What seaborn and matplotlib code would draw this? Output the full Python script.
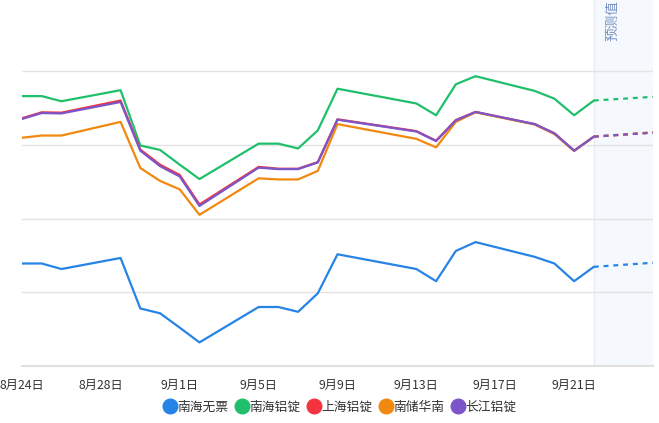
import matplotlib
matplotlib.use("Agg")
import matplotlib.pyplot as plt
from matplotlib.lines import Line2D
import seaborn as sns
import pandas as pd

# 日期与各系列数值
dates = ["2024-08-24", "2024-08-25", "2024-08-26", "2024-08-29", "2024-08-30",
         "2024-08-31", "2024-09-01", "2024-09-02", "2024-09-05", "2024-09-06",
         "2024-09-07", "2024-09-08", "2024-09-09", "2024-09-13", "2024-09-14",
         "2024-09-15", "2024-09-16", "2024-09-19", "2024-09-20", "2024-09-21",
         "2024-09-22"]
pred_dates = ["2024-09-22", "2024-09-25"]

series_names = ["南海无票", "南海铝锭", "上海铝锭", "南储华南", "长江铝锭"]
colors = ["#2684e6", "#20bf6b", "#f3343f", "#f1880f", "#7c55c8"]

nanhai_wupiao = [13.9, 13.9, 13.15, 14.65, 7.8, 7.15, 5.2, 3.2, 8.0, 8.0,
                 7.35, 9.85, 15.15, 13.15, 11.5, 15.6, 16.8, 14.8, 13.9, 11.5, 13.45]
nanhai_ding = [36.6, 36.6, 35.9, 37.4, 29.9, 29.3, 27.3, 25.35, 30.15, 30.15,
               29.5, 31.95, 37.6, 35.6, 34.0, 38.2, 39.3, 37.3, 36.25, 34.0, 36.0]
shanghai_ding = [33.6, 34.4, 34.35, 36.0, 29.35, 27.3, 25.9, 21.9, 27.0, 26.75,
                 26.75, 27.65, 33.45, 31.85, 30.55, 33.35, 34.45, 32.8, 31.55, 29.2, 31.1]
nanchu_huanan = [30.95, 31.25, 31.25, 33.1, 26.85, 25.1, 23.95, 20.5, 25.45, 25.3,
                 25.3, 26.45, 32.8, 30.8, 29.65, 33.1, 34.4, 32.75, 31.45, 29.15, 31.1]
changjiang_ding = [33.5, 34.3, 34.25, 35.8, 29.2, 27.1, 25.7, 21.7, 26.9, 26.7,
                   26.7, 27.6, 33.4, 31.8, 30.5, 33.3, 34.45, 32.8, 31.55, 29.2, 31.1]

# 预测值（虚线部分）
pred_values = [[13.45, 14.0], [36.0, 36.5], [31.1, 31.65], [31.1, 31.7], [31.1, 31.65]]

history = [nanhai_wupiao, nanhai_ding, shanghai_ding, nanchu_huanan, changjiang_ding]

rows = []
for name, vals in zip(series_names, history):
    for d, v in zip(dates, vals):
        rows.append({"date": pd.Timestamp(d), "value": v, "series": name})
df = pd.DataFrame(rows)

prow = []
for name, vals in zip(series_names, pred_values):
    for d, v in zip(pred_dates, vals):
        prow.append({"date": pd.Timestamp(d), "value": v, "series": name})
pdf = pd.DataFrame(prow)

sns.set_style("white")
plt.rcParams['font.family'] = ['Noto Sans CJK SC', 'DejaVu Sans']

fig = plt.figure(figsize=(6.59, 4.23), dpi=100)
ax = fig.add_axes([22 / 659, (423 - 366) / 423, 631 / 659, 366 / 423])

# 预测区域
ax.axvspan(pd.Timestamp("2024-09-22"), pd.Timestamp("2024-09-25"), color="#f5f8fc", zorder=0)
ax.axvline(pd.Timestamp("2024-09-22"), color="#e9edf3", lw=1, zorder=0.5)

palette = dict(zip(series_names, colors))
for name in series_names:
    sns.lineplot(data=df[df.series == name], x="date", y="value", color=palette[name],
                 lw=1.6, ax=ax, legend=False, zorder=3)
for name in series_names:
    sub = pdf[pdf.series == name]
    ax.plot(sub.date, sub.value, color=palette[name], lw=1.6, ls=(0, (2.2, 2.2)), zorder=3)

ax.set_xlim(pd.Timestamp("2024-08-24"), pd.Timestamp("2024-09-25"))
ax.set_ylim(0, 49.63)
ax.set_yticks([10, 20, 30, 40])
ax.set_yticklabels([])
ax.tick_params(axis="y", length=0)
ax.yaxis.grid(True, color="#e3e3e3", lw=1)
ax.set_axisbelow(True)

ticks = pd.date_range("2024-08-24", "2024-09-21", freq="4D")
ax.set_xticks(ticks)
ax.set_xticklabels([f"{t.month}月{t.day}日" for t in ticks], fontsize=8.8, color="#333333")
ax.tick_params(axis="x", length=5, color="#d6d6d6", pad=4)
ax.set_xlabel("")
ax.set_ylabel("")

for s in ["top", "right", "left"]:
    ax.spines[s].set_visible(False)
ax.spines["bottom"].set_color("#e0e0e0")
ax.spines["bottom"].set_linewidth(1.5)

fig.text(612 / 659, 1 - 41 / 423, "预测值", rotation=90,
         ha="center", va="bottom", fontsize=9.8, color="#7390c2")

handles = [Line2D([0], [0], marker="o", ls="", markersize=10.5, color=c) for c in colors]
fig.legend(handles, series_names, loc="center", bbox_to_anchor=(340 / 659, 1 - 407 / 423),
           ncol=5, frameon=False, fontsize=9.2, handletextpad=0.1, columnspacing=0.55,
           handlelength=1.0, labelcolor="#333333")

fig.savefig("out.png", dpi=100)
